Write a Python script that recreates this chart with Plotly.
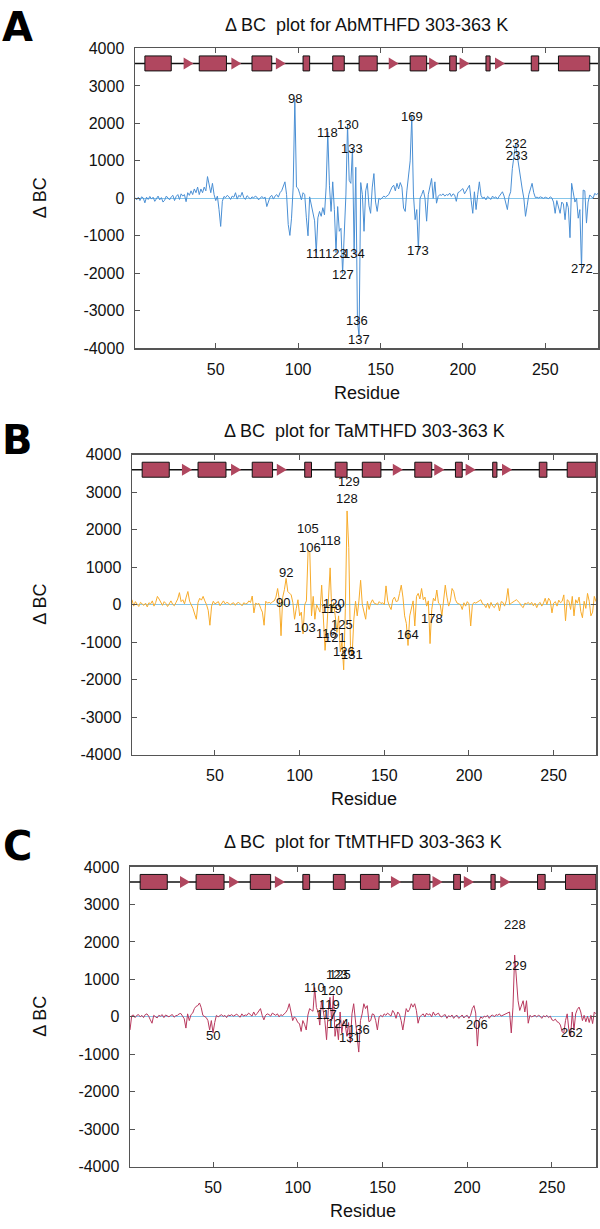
import plotly.graph_objects as go

W, H = 600, 1229

# ---------------- data ----------------
panel_letters = ["A", "B", "C"]
panel_titles = [
    "Δ BC  plot for AbMTHFD 303-363 K",
    "Δ BC  plot for TaMTHFD 303-363 K",
    "Δ BC  plot for TtMTHFD 303-363 K",
]

ab_dbc = [
    20, -40, 30, -60, 40, 10, -120, 30, -30, 50,
    -20, 30, -80, 10, 60, -40, 20, -100, -50, 60,
    20, -40, 40, 80, -60, 50, 100, -30, 120, 60,
    100, -90, 150, 80, 200, 100, 250, 150, 300, 100,
    250, 150, 300, 200, 580, 300, 150, 400, 100, -60,
    60, -300, -750, -80, 50, 20, 80, 40, -30, 60,
    30, 150, -20, 80, 40, 160, 20, -30, 70, 30,
    -20, 40, 10, 60, 30, -40, 20, 50, 0, 30,
    -220, -60, 40, 80, -20, 60, 100, 30, 150, 200,
    300, 440, 100, -700, -990, -530, 300, 2650, 300, 260,
    120, -40, 150, 100, -520, -1000, 40, -175, -300, -600,
    -1450, -520, -350, -480, -250, -440, 300, 1770, 350, -350,
    440, -300, -1450, -220, -880, -800, -2000, -960, 90, 1970,
    480, 400, 1340, -1450, 830, -3265, -3700, 420, 100, -880,
    200, 400, -200, -400, 300, 660, -100, -350, 0, -30,
    20, 60, 30, 80, 100, 200, 300, 350, 200, 400,
    250, 420, 300, -260, -350, 200, 610, 1000, 2190, 90,
    -570, -300, -1390, 0, 100, 220, 0, -610, 100, 350,
    530, 0, 440, -130, 50, 100, 80, 120, 60, 100,
    80, 140, 50, 120, 90, -80, 150, 180, 220, 260,
    120, 200, 300, 350, -50, -400, 175, -300, 100, 440,
    80, 0, 30, -40, 50, 20, -30, 60, 10, 40,
    -20, 50, 100, 175, 60, -100, -300, 50, 175, 790,
    1100, 1460, 1140, 800, 530, 250, 0, -480, -200, 100,
    250, 400, 150, 20, 30, 10, 40, 20, 0, 30,
    20, -10, 40, 10, -100, -400, -60, -200, -400, -100,
    -150, -570, -100, -250, -1050, 400, 100, -100, 0, -530,
    -300, -1870, 220, 200, -660, -100, 90, 50, 0, 130,
    100, 130,
]

ta_dbc = [
    130, -40, 80, 20, -50, 60, 30, -20, 40, -60,
    50, 20, 100, -40, 60, 220, 150, 40, -20, 80,
    30, -50, 40, 100, 10, -30, 60, 150, 320, 80,
    130, 20, 200, 350, 90, 0, -100, -250, -390, 60,
    170, 120, 220, 100, 0, -150, -550, -40, 90, 20,
    60, 80, -30, 40, 100, 20, 60, 40, -10, 30,
    50, -20, 40, 60, 10, -30, 50, 20, 30, 100,
    60, 230, -220, 40, 10, 30, -100, -200, -550, 90,
    40, 60, 30, 80, 100, 200, 430, 130, -830, 200,
    400, 700, 350, 300, 260, 50, -390, -100, 130, -300,
    -200, -780, 0, 100, 1450, 1400, -300, 220, -390, 0,
    -100, -200, 520, -480, -1220, -700, 200, 980, -220, 50,
    -300, -740, -300, -1260, -1000, -1740, -100, 2500, 1520, -1090,
    -1350, -390, 90, -300, 100, 650, 0, -200, -390, 90,
    -130, 40, 130, 40, 20, 0, 80, 30, 50, 0,
    500, 100, -40, -130, 130, 200, 80, 100, 300, 520,
    200, -300, -500, -1090, -300, -130, 100, -570, 220, 300,
    150, 430, 130, 200, -40, 100, -1040, -130, 170, 100,
    390, 40, 0, -300, 200, 520, 200, -40, 100, 430,
    350, 130, 40, 20, 0, -130, 50, -40, 80, 20,
    -570, 0, 60, 40, 80, 100, 130, 20, 0, -80,
    40, -100, 60, -40, -80, 20, 50, -170, 80, 60,
    -40, 100, 430, 0, 40, 80, 100, 130, 80, 40,
    -40, -80, 40, 20, 60, 0, 60, -30, 40, -80,
    20, 60, -40, 40, 170, 0, 170, 100, -220, 40,
    80, -40, 120, 50, 90, 260, -430, 130, 90, -130,
    220, -300, 130, 40, 200, -180, -350, 90, -100, 300,
    90, -300, -200, 220, 80,
]

tt_dbc = [
    -350, 30, 50, -20, 40, 60, 0, 40, -20, 60,
    80, 20, -80, -170, 40, 10, -30, 40, 20, 60,
    -20, 50, 30, 0, 40, 60, -10, 30, 40, 80,
    90, 20, -50, -300, 80, -100, 60, 100, 220, 280,
    300, 370, 250, 40, 0, -20, -100, -350, -100, -430,
    -150, 40, 0, 30, 60, 10, 40, -20, 50, 30,
    60, 20, 40, 70, 30, -10, 80, 20, 50, 40,
    100, 60, 20, 130, 40, 90, 150, 220, 40, -80,
    40, 80, 60, 20, 100, 60, 40, 80, 0, 60,
    30, 80, 120, 200, 350, 130, -100, 0, -50, -150,
    -180, -390, -100, -200, -350, 50, 220, 180, 150, 780,
    250, 130, -220, 430, 130, -100, -610, 170, 520, -100,
    570, -520, -200, -610, 130, -430, -100, -200, -520, -150,
    -700, 80, 350, -100, -430, -940, -100, 80, 350, 220,
    300, -130, -100, 80, 60, -100, -350, 0, 40, 0,
    80, 40, 100, 50, 20, 170, 100, -40, 130, 70,
    -100, -350, 0, 220, 130, 200, 350, 260, 350, 170,
    -170, 0, 40, 80, 0, 100, 50, 80, 0, 130,
    40, 80, 100, 20, 0, 40, 60, -40, 30, 0,
    50, -40, 20, 40, -40, 0, 50, -30, 20, 40,
    -40, 40, 220, 300, 100, -780, -100, 0, -40, 20,
    0, 40, -40, 30, 50, 0, 60, 40, 80, 20,
    40, 60, 80, 100, 130, -430, 260, 1650, 960, 430,
    170, 300, 430, 130, 430, -170, 40, 0, 30, 40,
    0, 40, 20, -40, 30, 0, 40, -20, 20, -80,
    -100, -60, -130, -150, -220, -400, -430, -100, 80, -350,
    -520, 130, -350, 80, 200, 260, 130, -100, 40, -130,
    20, -150, 40, -180, 130, 80,
]

# residue ranges shown on each x axis
x_ranges = [[1, 282], [1, 275], [1, 276]]

# peak labels: residue, y position
ab_label_res = [98, 118, 130, 133, 169, 232, 233, 111, 123, 134, 127, 173, 272, 136, 137]
ab_label_y = [2675, 1770, 1970, 1340, 2190, 1460, 1140, -1475, -1475, -1475, -2020, -1390, -1870, -3265, -3770]
ta_label_res = [129, 128, 105, 106, 118, 92, 90, 120, 119, 103, 116, 125, 121, 126, 131, 164, 178]
ta_label_y = [3280, 2830, 2020, 1520, 1700, 850, 70, 40, -100, -610, -760, -540, -890, -1260, -1330, -800, -370]
tt_label_res = [228, 229, 123, 125, 110, 120, 119, 117, 124, 136, 131, 50, 206, 262]
tt_label_y = [2465, 1370, 1130, 1130, 780, 690, 340, 60, -180, -350, -560, -510, -210, -430]

# secondary structure (residue ranges): helices = boxes, strands = arrows
helix_start = [7, 40, 72, 103, 121, 137, 168, 192, 214, 241.5, 258]
helix_end = [23, 56.5, 84, 107, 128, 148, 178, 196, 216.5, 246, 277]
strand_start = [30.5, 59.5, 86.5, 155, 179.5, 198, 219.5]
strand_end = [36.5, 65.5, 92.5, 161, 185.5, 204, 225.5]

x_tickvals = [50, 100, 150, 200, 250]
x_ticktext = ["50", "100", "150", "200", "250"]
y_tickvals = [-4000, -3000, -2000, -1000, 0, 1000, 2000, 3000, 4000]
y_ticktext = ["-4000", "-3000", "-2000", "-1000", "0", "1000", "2000", "3000", "4000"]

# ---------------- style / layout ----------------
series = [ab_dbc, ta_dbc, tt_dbc]
labels = [(ab_label_res, ab_label_y), (ta_label_res, ta_label_y), (tt_label_res, tt_label_y)]
line_colors = ["#4a8fd4", "#f7ab2a", "#b8395e"]
SS_COLOR = "#b0475f"
ZERO_COLOR = "#86c6ea"
AX_COLOR = "#555555"
FONT = "Liberation Sans, Arial, sans-serif"

# pixel geometry of each panel: left, right, top, bottom
boxes = [(135, 598, 41, 345), (132, 596, 453, 757), (130, 596, 871, 1175)]
title_y = [17, 429, 846]
letter_y = [19, 438, 850]


def pxx(x):
    return x / W


def pxy(y):
    return 1 - y / H


fig = go.Figure()
shapes = []
annotations = []
layout_axes = {}

for i in range(3):
    vals = series[i]
    res = list(range(1, len(vals) + 1))
    xa = "x" if i == 0 else f"x{i+1}"
    ya = "y" if i == 0 else f"y{i+1}"
    xkey = "xaxis" if i == 0 else f"xaxis{i+1}"
    ykey = "yaxis" if i == 0 else f"yaxis{i+1}"
    l, r, t, b = boxes[i]

    fig.add_trace(go.Scatter(
        x=res, y=vals, mode="lines", xaxis=xa, yaxis=ya,
        line=dict(color=line_colors[i], width=1), hoverinfo="skip",
        showlegend=False,
    ))

    common = dict(showline=True, linecolor=AX_COLOR, linewidth=1.5, mirror="ticks",
                  ticks="inside", ticklen=5, tickwidth=1, tickcolor=AX_COLOR,
                  showgrid=False, tickfont=dict(family=FONT, size=16, color="#111"))
    layout_axes[xkey] = dict(domain=[pxx(l), pxx(r)], anchor=ya, range=x_ranges[i],
                             tickvals=x_tickvals, ticktext=x_ticktext, zeroline=False,
                             ticklabelstandoff=6, **common)
    layout_axes[ykey] = dict(domain=[pxy(b), pxy(t)], anchor=xa, range=[-4000, 4000],
                             tickvals=y_tickvals, ticktext=y_ticktext, zeroline=True,
                             zerolinecolor=ZERO_COLOR, zerolinewidth=1,
                             ticklabelstandoff=6, **common)

    # secondary structure backbone line
    shapes.append(dict(type="line", xref=xa, yref=ya, x0=x_ranges[i][0], x1=x_ranges[i][1],
                       y0=3600, y1=3600, line=dict(color="#111", width=1.5), layer="above"))
    for s, e in zip(strand_start, strand_end):
        shapes.append(dict(type="path", xref=xa, yref=ya,
                           path=f"M {s},3440 L {e},3600 L {s},3760 Z",
                           fillcolor=SS_COLOR, line=dict(width=0), layer="above"))
    for s, e in zip(helix_start, helix_end):
        e = min(e, x_ranges[i][1])
        shapes.append(dict(type="rect", xref=xa, yref=ya, x0=s, x1=e, y0=3400, y1=3800,
                           fillcolor=SS_COLOR, line=dict(color="#111", width=1), layer="above"))

    # peak labels
    lr, ly = labels[i]
    for rr, yy in zip(lr, ly):
        annotations.append(dict(x=rr, y=yy, xref=xa, yref=ya, text=str(rr), showarrow=False,
                                font=dict(family=FONT, size=13, color="#111")))

    # titles
    cx = (l + r) / 2
    annotations.append(dict(x=pxx(cx), y=pxy(title_y[i]), xref="paper", yref="paper",
                            text=panel_titles[i], showarrow=False, xanchor="center", yanchor="middle",
                            font=dict(family=FONT, size=18, color="#111")))
    annotations.append(dict(x=pxx(cx), y=pxy(b + 45), xref="paper", yref="paper",
                            text="Residue", showarrow=False, xanchor="center", yanchor="middle",
                            font=dict(family=FONT, size=18, color="#111")))
    annotations.append(dict(x=pxx(40), y=pxy((t + b) / 2), xref="paper", yref="paper",
                            text="Δ BC", textangle=-90, showarrow=False, xanchor="center",
                            yanchor="middle", font=dict(family=FONT, size=18, color="#111")))
    annotations.append(dict(x=pxx(17), y=pxy(letter_y[i]), xref="paper", yref="paper",
                            text=f"<b>{panel_letters[i]}</b>", showarrow=False, xanchor="center",
                            yanchor="middle", font=dict(family="DejaVu Sans", size=40, color="#000")))

fig.update_layout(
    width=W, height=H, margin=dict(l=0, r=0, t=0, b=0),
    paper_bgcolor="white", plot_bgcolor="white",
    shapes=shapes, annotations=annotations, showlegend=False,
    **layout_axes,
)

fig.write_html("out.html", config={"displayModeBar": False, "staticPlot": True},
               post_script="document.body.style.margin='0';document.body.style.overflow='hidden';")
